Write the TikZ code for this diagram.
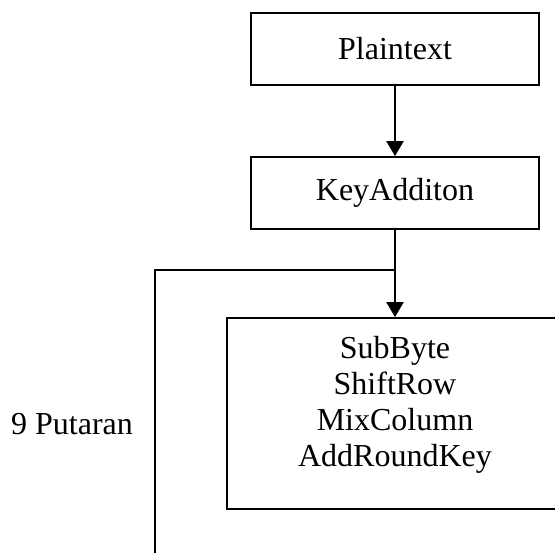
\documentclass[tikz,border=0pt]{standalone}
\usepackage{fontspec}
\setmainfont{Liberation Serif}
\usetikzlibrary{arrows.meta}

\begin{document}
\begin{tikzpicture}[x=0.5pt,y=-0.5pt]

\tikzset{stagebox/.style = {shape=rectangle,draw,line width=0.9pt,minimum width=144pt,minimum height=36pt,font=\fontsize{16}{18}\selectfont}}
\tikzset{flow/.style = {-{Triangle[width=8.5pt,length=7.5pt]},line width=1.1pt}}
\tikzset{loopline/.style = {line width=0.8pt}}
\useasboundingbox (0,0) rectangle (555,552);
\clip (0,0) rectangle (555,552);
%boxes
\node[stagebox] (plain) at (395,49) {Plaintext};
\node[stagebox] (keyadd) at (395,193) {KeyAdditon};
\node[stagebox, minimum width=168pt, minimum height=95.5pt] (rounds) at (395,413.5) {};
\node[align=center, inner sep=0pt, font=\fontsize{16}{18}\selectfont] (roundsteps) at (395,405) {SubByte\\ShiftRow\\MixColumn\\AddRoundKey};
\node[anchor=base, inner sep=0pt, font=\fontsize{16}{18}\selectfont] (putaran) at (72,434) {9 Putaran};
\coordinate (branch) at (395,270);
\coordinate (loopturn) at (155,270);
\coordinate (loopend) at (155,560);
%edges
\draw [flow] (plain) -- (keyadd);
\draw [flow] (keyadd) -- (rounds);
\draw [loopline] (branch) -- (loopturn) -- (loopend);

\end{tikzpicture}
\end{document}
